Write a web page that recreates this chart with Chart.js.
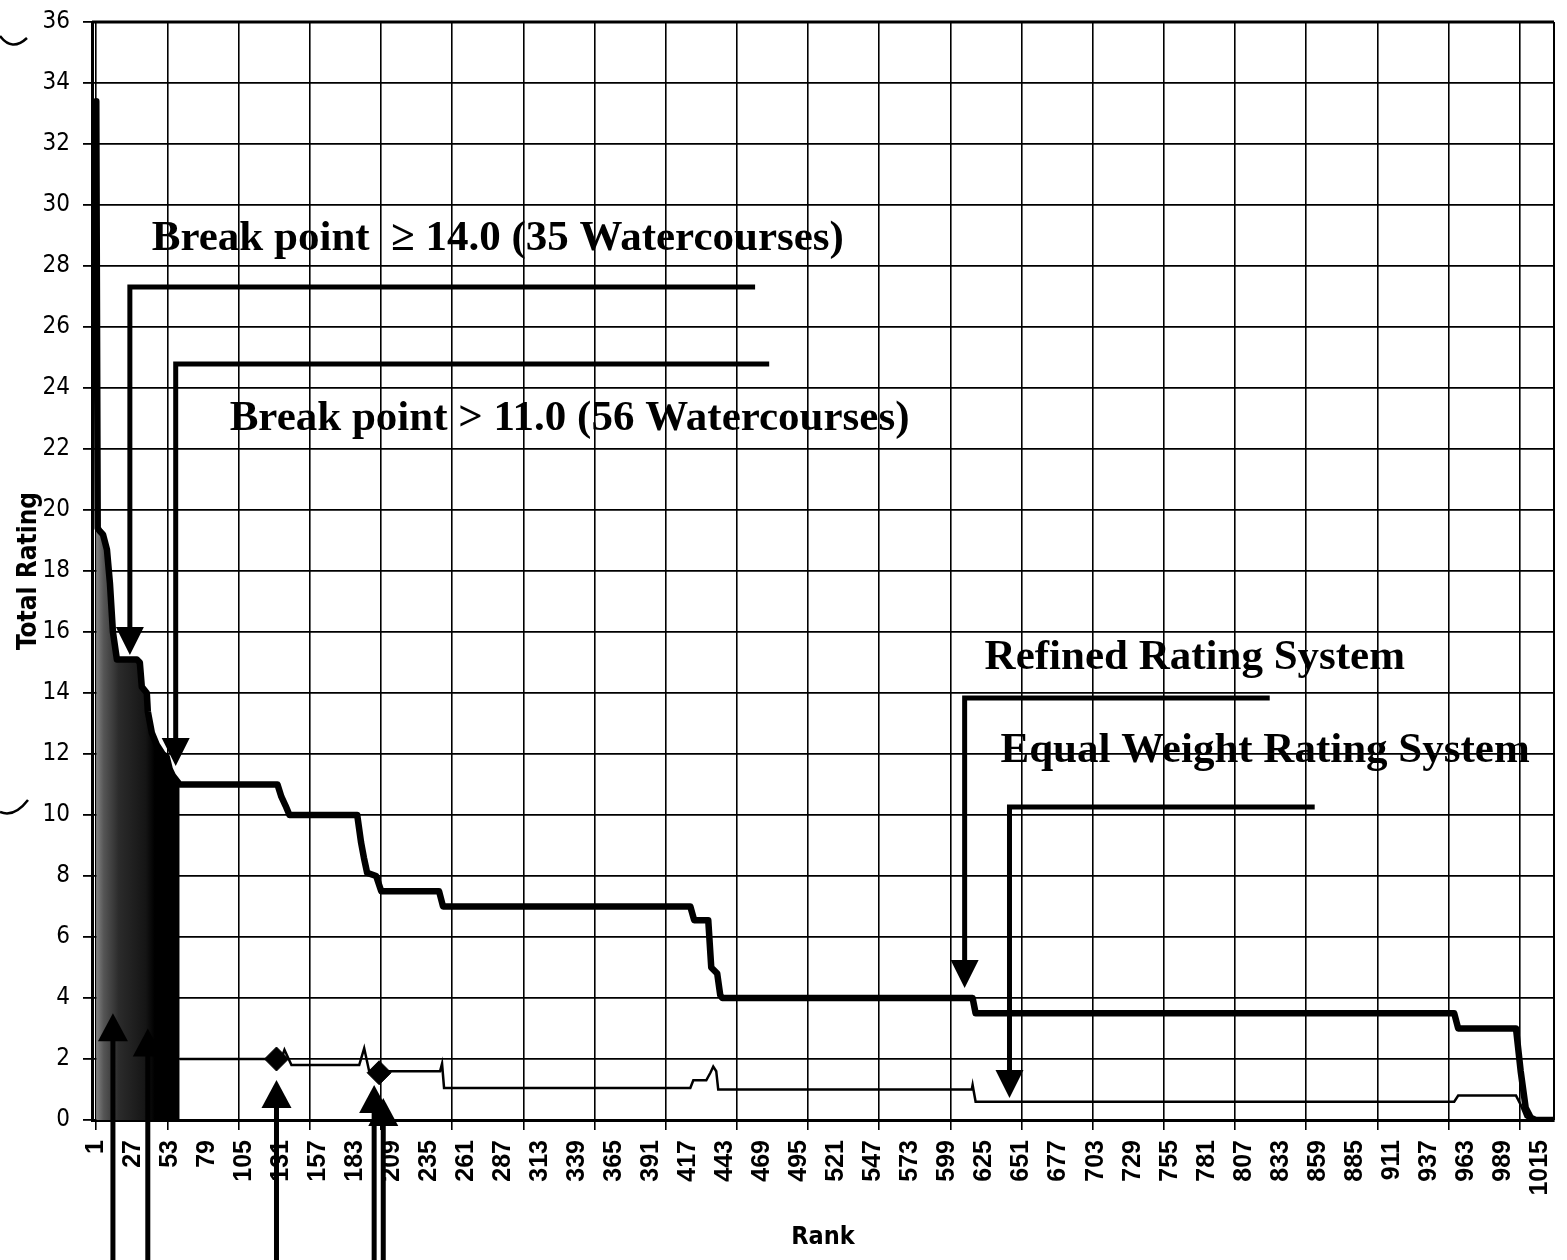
<!DOCTYPE html>
<html>
<head>
<meta charset="utf-8">
<title>Total Rating by Rank</title>
<script src="https://cdn.jsdelivr.net/npm/chart.js@4.4.1/dist/chart.umd.min.js"></script>
<style>
  html, body { margin: 0; padding: 0; background: #fff; }
  #wrap { width: 1567px; height: 1260px; position: relative; }
</style>
</head>
<body>
<div id="wrap"><canvas id="ratingChart"></canvas></div>
<script>
// Refined Rating System (thick line) - corner points
var refinedRank = [1, 2, 3.6, 5.7, 8.5, 10.6, 12.7, 15.5, 29.5, 31.6, 33, 36.5, 37.2, 40, 43.5, 47.7, 50.5, 52.6, 54.7, 59.6,
	128.3, 131, 134, 136.7, 184.3, 187, 189, 191.3, 197.6, 201.2, 241.8, 244.6,
	418.3, 421, 430.9, 433, 437.2, 439.3, 440.7, 616.6, 618.7, 954.9, 957.7,
	998.3, 1001.6, 1005.1, 1008.6, 1012.1, 1025];
var refinedRating = [33.4, 19.4, 19.3, 19.2, 18.7, 17.6, 16.0, 15.1, 15.1, 15.0, 14.2, 14.0, 13.4, 12.7, 12.3, 12.0, 11.9, 11.5, 11.3, 11.0,
	11.0, 10.6, 10.3, 10.0, 10.0, 9.1, 8.6, 8.1, 8.0, 7.5, 7.5, 7.0,
	7.0, 6.55, 6.55, 5.0, 4.8, 4.1, 4.0, 4.0, 3.5, 3.5, 3.0,
	3.0, 1.6, 0.4, 0.08, 0, 0];

// Equal Weight Rating System (thin line) from rank 59 on
var equalRank = [59.6, 119.5, 127.6, 131, 133.2, 138.1, 185.7, 189.2, 192.7, 199.7, 205.4, 242.5, 243.9, 245.3,
	418.3, 420.4, 429.5, 432.4, 434.4, 436.5, 437.9, 616, 616.6, 618.7, 954.9, 957.7, 998.3, 1001.6, 1005.1, 1008.6];
var equalRating = [2.0, 2.0, 2.0, 2.0, 2.3, 1.8, 1.8, 2.35, 1.6, 1.55, 1.6, 1.6, 1.85, 1.05,
	1.05, 1.3, 1.3, 1.55, 1.75, 1.6, 1.0, 1.0, 1.15, 0.6, 0.6, 0.8, 0.8, 0.5, 0.1, 0];

// highlighted points on the equal weight line
var markerRank = [127.6, 199.7];
var markerRating = [2.0, 1.55];

// category labels and the tick mark / gridline spacing of the x axis
var rankLabels = [1, 27, 53, 79, 105, 131, 157, 183, 209, 235, 261, 287, 313, 339, 365, 391, 417, 443, 469, 495,
	521, 547, 573, 599, 625, 651, 677, 703, 729, 755, 781, 807, 833, 859, 885, 911, 937, 963, 989, 1015];
var rankGrid = [1, 51, 101, 151, 201, 251, 301, 351, 401, 451, 501, 551, 601, 651, 701, 751, 801, 851, 901, 951, 1001];

// annotation callouts, in rank / rating units
var callouts = [
	{ text: 'Break point  \u2265 14.0 (35 Watercourses)', rank: 40.0, rating: 28.52 },
	{ text: 'Break point > 11.0 (56 Watercourses)', rank: 94.7, rating: 22.62 },
	{ text: 'Refined Rating System', rank: 625.0, rating: 14.79 },
	{ text: 'Equal Weight Rating System', rank: 636.2, rating: 11.74 }
];
var brackets = [
	{ from: 24.6, to: 463.8, level: 27.31, tip: 15.25 },
	{ from: 56.8, to: 473.7, level: 24.79, tip: 11.61 },
	{ from: 611.0, to: 825.3, level: 13.84, tip: 4.33 },
	{ from: 642.5, to: 856.9, level: 10.26, tip: 0.72 }
];
var upArrows = [
	{ rank: 12.7, tip: 3.5 },
	{ rank: 37.2, tip: 3.0 },
	{ rank: 127.6, tip: 1.31 },
	{ rank: 196.2, tip: 1.15 },
	{ rank: 202.6, tip: 0.72 }
];

function points(xs, ys) {
	var out = [];
	for (var i = 0; i < xs.length; i++) out.push({ x: xs[i], y: ys[i] });
	return out;
}

// the first 59 ranks of the equal weight line swing so fast they print as a solid block
var densePoints = points(refinedRank, refinedRating).filter(function (p) { return p.x <= 59.6; });

var narrow = "'Liberation Sans Narrow', 'DejaVu Sans Condensed', 'Arial Narrow', sans-serif";

var calloutPlugin = {
	id: 'callouts',
	beforeDatasetsDraw: function (chart) {
		var a = chart.chartArea, ctx = chart.ctx;
		ctx.save();
		ctx.strokeStyle = '#000';
		ctx.lineWidth = 3;
		ctx.beginPath(); ctx.moveTo(a.left, a.top); ctx.lineTo(a.right, a.top); ctx.stroke();
		ctx.lineWidth = 2;
		ctx.beginPath(); ctx.moveTo(a.right, a.top); ctx.lineTo(a.right, a.bottom); ctx.stroke();
		ctx.restore();
	},
	afterDraw: function (chart) {
		var ctx = chart.ctx;
		var sx = chart.scales.x, sy = chart.scales.y;
		var head = 28, half = 14;
		ctx.save();
		ctx.fillStyle = '#000';
		ctx.strokeStyle = '#000';

		ctx.font = "bold 43px 'Liberation Serif', 'Times New Roman', serif";
		ctx.textBaseline = 'alphabetic';
		ctx.textAlign = 'left';
		callouts.forEach(function (c) {
			ctx.fillText(c.text, sx.getPixelForValue(c.rank), sy.getPixelForValue(c.rating));
		});

		ctx.lineWidth = 5;
		ctx.lineJoin = 'miter';
		brackets.forEach(function (b) {
			var x0 = sx.getPixelForValue(b.from), x1 = sx.getPixelForValue(b.to);
			var y0 = sy.getPixelForValue(b.level), yt = sy.getPixelForValue(b.tip);
			ctx.beginPath();
			ctx.moveTo(x1, y0);
			ctx.lineTo(x0, y0);
			ctx.lineTo(x0, yt - head + 2);
			ctx.stroke();
			ctx.beginPath();
			ctx.moveTo(x0 - half, yt - head);
			ctx.lineTo(x0 + half, yt - head);
			ctx.lineTo(x0, yt);
			ctx.closePath();
			ctx.fill();
		});

		upArrows.forEach(function (u) {
			var x = sx.getPixelForValue(u.rank), yt = sy.getPixelForValue(u.tip);
			ctx.beginPath();
			ctx.moveTo(x, chart.height);
			ctx.lineTo(x, yt + head - 2);
			ctx.stroke();
			ctx.beginPath();
			ctx.moveTo(x - half - 1, yt + head);
			ctx.lineTo(x + half + 1, yt + head);
			ctx.lineTo(x, yt);
			ctx.closePath();
			ctx.fill();
		});

		// binder-hole marks on the scan margin
		ctx.lineWidth = 2.5;
		ctx.beginPath(); ctx.moveTo(0, 36); ctx.quadraticCurveTo(12, 52, 27, 38); ctx.stroke();
		ctx.beginPath(); ctx.moveTo(0, 812); ctx.quadraticCurveTo(14, 818, 28, 800); ctx.stroke();
		ctx.restore();
	}
};

var ctx = document.getElementById('ratingChart');

var chart = new Chart(ctx, {
	type: 'line',
	data: {
		datasets: [{
			label: 'Refined Rating System',
			data: points(refinedRank, refinedRating),
			borderColor: '#000',
			borderWidth: 6.5,
			borderJoinStyle: 'round',
			borderCapStyle: 'round',
			pointRadius: 0,
			fill: false,
			order: 0
		}, {
			label: 'Equal Weight Rating System',
			data: points(markerRank, markerRating),
			showLine: false,
			pointStyle: 'rectRot',
			pointRadius: 12,
			pointBackgroundColor: '#000',
			pointBorderColor: '#000',
			order: 1
		}, {
			label: 'Equal Weight Rating System',
			data: points(equalRank, equalRating),
			borderColor: '#000',
			borderWidth: 2.5,
			pointRadius: 0,
			fill: false,
			order: 2
		}, {
			label: 'Equal Weight (ranks 1-59)',
			data: densePoints,
			borderWidth: 0,
			pointRadius: 0,
			fill: 'origin',
			backgroundColor: function (c) {
				var ch = c.chart;
				if (!ch.chartArea) return '#000';
				var sx = ch.scales.x;
				var g = ch.ctx.createLinearGradient(sx.getPixelForValue(0), 0, sx.getPixelForValue(42), 0);
				g.addColorStop(0, '#8a8a8a');
				g.addColorStop(0.15, '#555');
				g.addColorStop(0.4, '#2b2b2b');
				g.addColorStop(0.85, '#151515');
				g.addColorStop(1, '#000');
				return g;
			},
			order: 3
		}]
	},
	options: {
		responsive: true,
		maintainAspectRatio: false,
		animation: false,
		devicePixelRatio: 1,
		layout: { padding: { top: 22, right: 9, left: 0, bottom: 0 } },
		plugins: { legend: { display: false }, tooltip: { enabled: false } },
		scales: {
			x: {
				type: 'linear', min: -2, max: 1025, position: 'bottom', weight: 1,
				afterBuildTicks: function (s) { s.ticks = rankLabels.map(function (v) { return { value: v }; }); },
				afterFit: function (s) { s.height = 130; s.paddingLeft = 0; s.paddingRight = 0; },
				grid: { display: false, drawTicks: false },
				border: { display: false },
				ticks: {
					autoSkip: false, minRotation: 90, maxRotation: 90, padding: 10, color: '#000',
					font: { family: "'Liberation Sans', Arial, sans-serif", size: 25, weight: 'bold' },
					callback: function (v) { return String(v); }
				},
				title: {
					display: true, text: 'Rank', color: '#000',
					font: { family: narrow, size: 25, weight: 'bold' },
					padding: { top: 0, bottom: 8 }
				}
			},
			xg: {
				type: 'linear', min: -2, max: 1025, position: 'bottom', weight: 0,
				afterBuildTicks: function (s) { s.ticks = rankGrid.map(function (v) { return { value: v }; }); },
				afterFit: function (s) { s.height = 10; s.paddingLeft = 0; s.paddingRight = 0; },
				grid: { color: '#000', lineWidth: 1.6, drawTicks: true, tickLength: 10 },
				border: { display: true, color: '#000', width: 3 },
				ticks: { display: false }
			},
			y: {
				min: 0, max: 36,
				afterFit: function (s) { s.width = 92; s.paddingTop = 0; s.paddingBottom = 0; },
				ticks: {
					stepSize: 2, padding: 13, color: '#000',
					font: { family: narrow, size: 24 }
				},
				grid: { color: '#000', lineWidth: 1.8, tickLength: 9 },
				border: { display: true, color: '#000', width: 3 },
				title: {
					display: true, text: 'Total Rating', color: '#000',
					font: { family: narrow, size: 26, weight: 'bold' },
					padding: { top: 14, bottom: 0 }
				}
			}
		}
	},
	plugins: [calloutPlugin]
});
</script>
</body>
</html>
